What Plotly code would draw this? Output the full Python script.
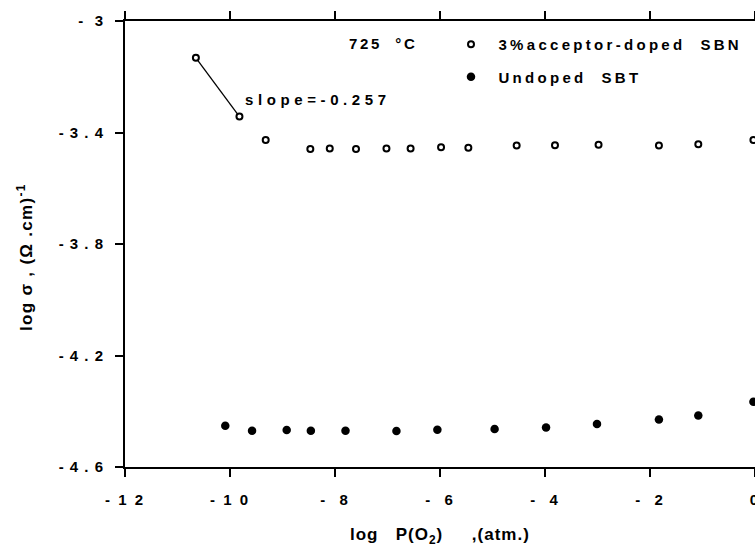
import plotly.graph_objects as go

# ---- data ----
sbn_x = [-10.65, -9.82, -9.32, -8.47, -8.10, -7.60, -7.02, -6.56, -5.98, -5.46,
         -4.54, -3.81, -2.98, -1.83, -1.08, -0.03]
sbn_y = [-3.132, -3.343, -3.427, -3.459, -3.457, -3.459, -3.457, -3.457, -3.453, -3.455,
         -3.447, -3.446, -3.444, -3.447, -3.442, -3.427]

sbt_x = [-10.09, -9.58, -8.92, -8.46, -7.80, -6.83, -6.05, -4.96, -3.98, -3.01,
         -1.83, -1.08, -0.03]
sbt_y = [-4.452, -4.470, -4.467, -4.470, -4.470, -4.471, -4.466, -4.464, -4.458, -4.446,
         -4.430, -4.415, -4.366]

x_tick_vals = [-12, -10, -8, -6, -4, -2, 0]
x_tick_text = ["-\u00a01\u00a02", "-\u00a01\u00a00", "-\u00a0\u00a08", "-\u00a0\u00a06",
               "-\u00a0\u00a04", "-\u00a0\u00a02", "0"]
y_tick_vals = [-3.0, -3.4, -3.8, -4.2, -4.6]
y_tick_text = ["-\u00a0\u00a03", "-\u00a03\u00a0.\u00a04", "-\u00a03\u00a0.\u00a08",
               "-\u00a04\u00a0.\u00a02", "-\u00a04\u00a0.\u00a06"]

name_sbn = "3%acceptor-doped\u00a0\u00a0SBN"
name_sbt = "Undoped\u00a0\u00a0SBT"
temp_label = "725\u00a0\u00a0°C"
slope_label = "slope=-0.257"
x_title = "log\u00a0\u00a0\u00a0P(O<sub>2</sub>)\u00a0\u00a0\u00a0\u00a0\u00a0,(atm.)"
y_title = "log\u00a0σ\u00a0,\u00a0(Ω\u00a0.cm)<sup>-1</sup>"

FONT = "Liberation Sans, Arial, sans-serif"


def ls(text, px):
    return f'<b><span style="letter-spacing:{px}px">{text}</span></b>'


W, H = 755, 553
ML, MR, MT, MB = 125, 0, 21, 86
PW, PH = W - ML - MR, H - MT - MB


def px_x(p):
    return (p - ML) / PW


def px_y(p):
    return 1 - (p - MT) / PH


fig = go.Figure()

# slope segment joining first two SBN points
fig.add_trace(go.Scatter(
    x=sbn_x[:2], y=sbn_y[:2], mode="lines",
    line=dict(color="black", width=1.3),
    showlegend=False, hoverinfo="skip"))

fig.add_trace(go.Scatter(
    x=sbn_x, y=sbn_y, mode="markers", name=ls("\u00a0" + name_sbn, 3.3),
    legendgroup="a",
    marker=dict(symbol="circle", size=6, color="white",
                line=dict(color="black", width=2))))

fig.add_trace(go.Scatter(
    x=sbt_x, y=sbt_y, mode="markers", name=ls("\u00a0" + name_sbt, 3.3),
    legendgroup="b",
    marker=dict(symbol="circle", size=8.5, color="black", line=dict(width=0))))

axis_common = dict(
    showgrid=False, zeroline=False, showline=True, linecolor="black", linewidth=2,
    ticks="outside", ticklen=8, tickwidth=2, tickcolor="black",
    tickfont=dict(family=FONT, size=15, color="black", weight="bold"),
    ticklabeloverflow="allow", automargin=False,
)

fig.update_xaxes(
    range=[-12, 0], tickvals=x_tick_vals,
    ticktext=[ls(t, 2.0) for t in x_tick_text],
    mirror="ticks", ticklabelstandoff=10, **axis_common)
fig.update_yaxes(
    range=[-4.6, -3.0], tickvals=y_tick_vals,
    ticktext=[ls(t, 1.0) for t in y_tick_text],
    mirror=False, ticklabelstandoff=8, **axis_common)

ann_font = dict(family=FONT, size=15, color="black", weight="bold")

fig.update_layout(
    width=W, height=H,
    margin=dict(l=ML, r=MR, t=MT, b=MB, pad=0, autoexpand=False),
    paper_bgcolor="white", plot_bgcolor="white",
    showlegend=True,
    legend=dict(
        x=px_x(451), xanchor="left", y=px_y(28), yanchor="top",
        bgcolor="rgba(0,0,0,0)", borderwidth=0,
        font=dict(family=FONT, size=15, color="black", weight="bold"),
        tracegroupgap=10, traceorder="grouped"),
    annotations=[
        dict(text=ls(temp_label, 2.6), x=px_x(347), y=px_y(43.7), xref="paper", yref="paper",
             xanchor="left", yanchor="middle", showarrow=False, font=ann_font),
        dict(text=ls(slope_label, 4.6), x=px_x(243), y=px_y(99.7), xref="paper", yref="paper",
             xanchor="left", yanchor="middle", showarrow=False, font=ann_font),
        dict(text=ls(x_title, 1), x=0.5, y=px_y(536), xref="paper", yref="paper",
             xanchor="center", yanchor="middle", showarrow=False,
             font=dict(family=FONT, size=17, color="black", weight="bold")),
        dict(text=ls(y_title, 1.3), x=px_x(25), y=px_y(257), xref="paper", yref="paper",
             xanchor="center", yanchor="middle", showarrow=False, textangle=-90,
             font=dict(family=FONT, size=17, color="black", weight="bold")),
    ],
)

fig.write_html("out.html")
